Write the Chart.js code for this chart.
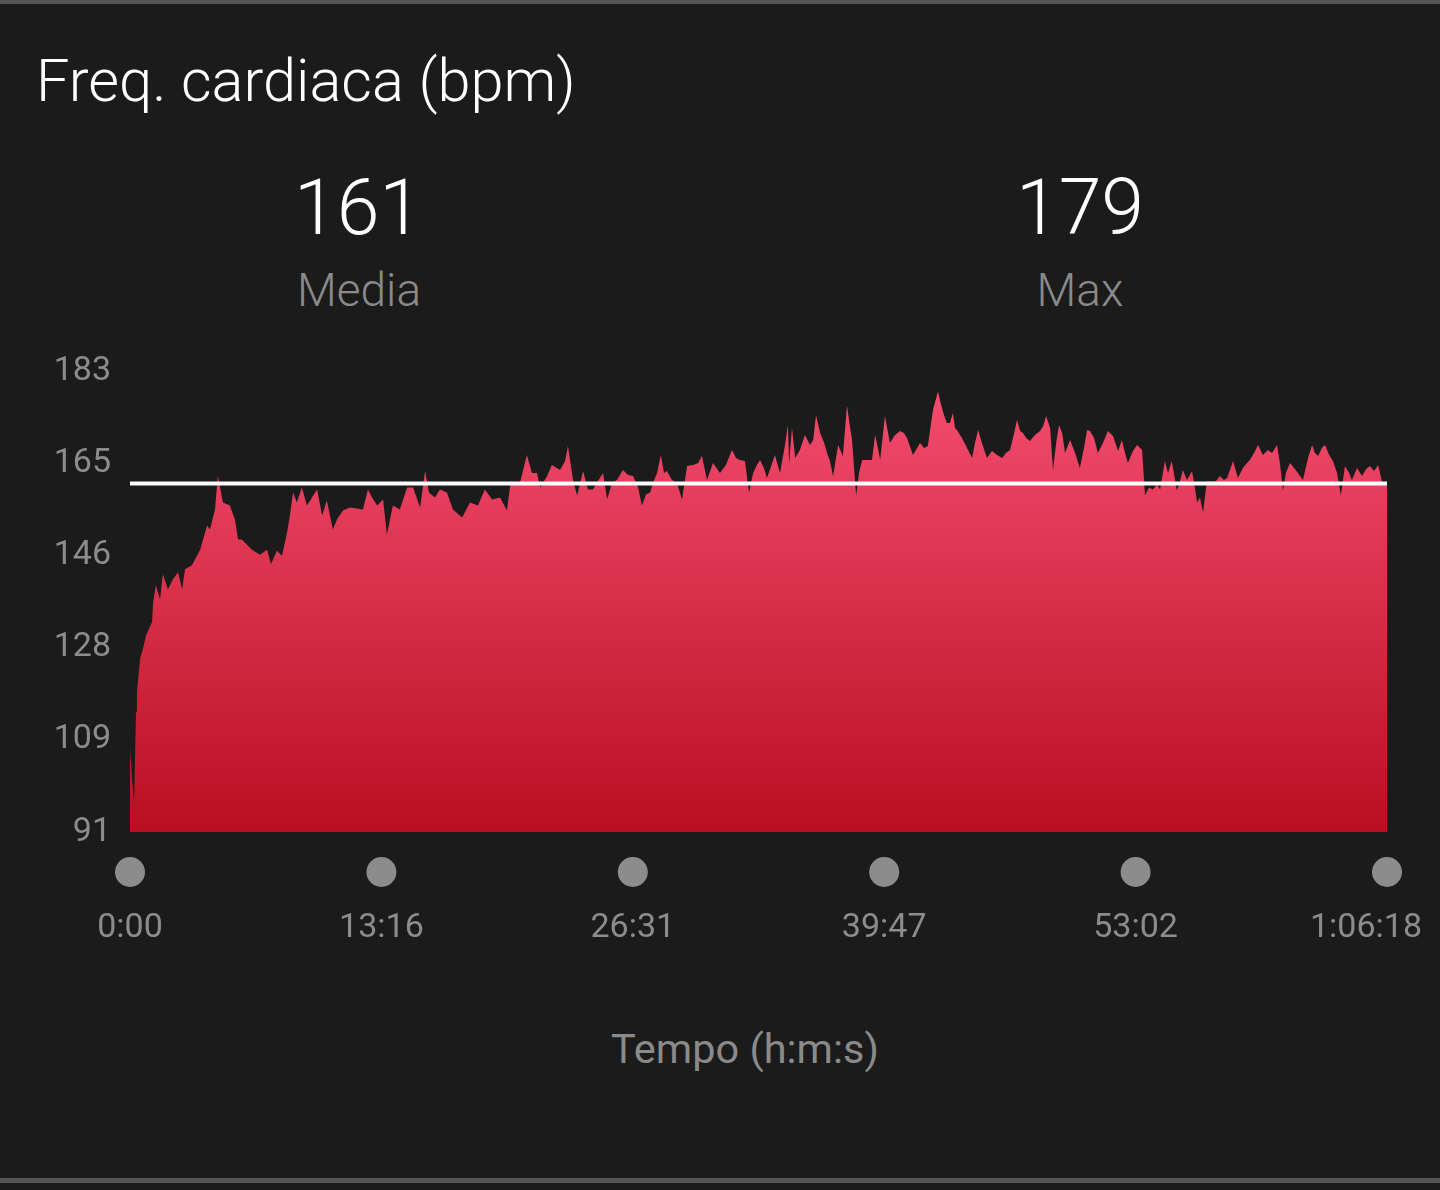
<!DOCTYPE html>
<html>
<head>
<meta charset="utf-8">
<script src="https://cdn.jsdelivr.net/npm/chart.js@4.4.1/dist/chart.umd.min.js"></script>
<style>
  html, body { margin: 0; padding: 0; background: #1b1b1b; }
  body { width: 1440px; height: 1190px; position: relative; overflow: hidden; font-family: Roboto, "Noto Sans", sans-serif; }
  .rule { position: absolute; left: 0; width: 1440px; background: #555; }
  .txt { position: absolute; margin: 0; line-height: 1; white-space: nowrap; }
  .center { text-align: center; width: 400px; }
  #wrap { position: absolute; left: 0; top: 332px; width: 1440px; height: 640px; }
  #wrap canvas { display: block; }
</style>
</head>
<body>
<div class="rule" style="top:0;height:4px"></div>
<div class="rule" style="top:1178px;height:5px"></div>

<div class="txt" style="left:36px;top:52px;font-size:59.5px;font-weight:300;color:#fff">Freq. cardiaca (bpm)</div>

<div class="txt center" id="avgNum" style="left:158px;top:170px;font-size:77px;font-weight:300;color:#fff"></div>
<div class="txt center" style="left:159px;top:267px;font-size:46px;font-weight:300;color:#8a8a8a">Media</div>
<div class="txt center" id="maxNum" style="left:880px;top:170px;font-size:77px;font-weight:300;color:#fff"></div>
<div class="txt center" style="left:880px;top:267px;font-size:46px;font-weight:300;color:#8a8a8a">Max</div>

<div id="wrap"><canvas id="hrChart" width="1440" height="640"></canvas></div>

<div class="txt" style="left:545px;top:1028px;width:400px;text-align:center;font-size:41.5px;color:#8a8a8a">Tempo (h:m:s)</div>

<script>
// heart rate samples: time (s) and bpm
const hrTime = [0, 6, 13, 19, 22, 32, 41, 51, 70, 73, 82, 95, 104, 120, 136, 152, 165, 174, 196, 222,
  244, 253, 269, 278, 294, 316, 332, 342, 354, 386, 411, 434, 446, 465, 481, 497, 506, 516, 528, 544,
  560, 576, 592, 608, 623, 642, 655, 674, 696, 718, 737, 753, 766, 782, 801, 813, 832, 854, 877, 896,
  918, 934, 946, 965, 981, 1003, 1022, 1051, 1076, 1101, 1123, 1146, 1171, 1193, 1203, 1234, 1256, 1272, 1288, 1298,
  1320, 1335, 1361, 1377, 1386, 1402, 1415, 1434, 1449, 1465, 1481, 1497, 1510, 1525, 1541, 1560, 1576, 1592, 1608, 1620,
  1633, 1646, 1655, 1668, 1680, 1690, 1699, 1715, 1731, 1747, 1763, 1782, 1798, 1810, 1826, 1845, 1867, 1886, 1905, 1918,
  1930, 1946, 1959, 1972, 1984, 1994, 2006, 2016, 2029, 2041, 2057, 2073, 2082, 2086, 2095, 2105, 2120, 2136, 2152, 2162,
  2171, 2184, 2197, 2206, 2215, 2225, 2241, 2256, 2269, 2279, 2285, 2298, 2307, 2317, 2336, 2348, 2358, 2367, 2374, 2389,
  2405, 2421, 2437, 2449, 2459, 2478, 2491, 2500, 2513, 2525, 2541, 2557, 2566, 2576, 2585, 2595, 2604, 2611, 2617, 2633,
  2649, 2665, 2674, 2684, 2696, 2712, 2728, 2744, 2760, 2772, 2785, 2798, 2807, 2817, 2826, 2836, 2848, 2864, 2880, 2890,
  2899, 2912, 2921, 2931, 2940, 2950, 2959, 2975, 2991, 3006, 3019, 3029, 3038, 3051, 3063, 3079, 3095, 3111, 3127, 3139,
  3149, 3158, 3174, 3187, 3203, 3212, 3225, 3237, 3250, 3260, 3275, 3285, 3297, 3313, 3323, 3332, 3345, 3361, 3370, 3377,
  3386, 3396, 3408, 3424, 3437, 3449, 3462, 3472, 3491, 3506, 3522, 3535, 3544, 3557, 3570, 3585, 3601, 3614, 3630, 3639,
  3649, 3658, 3671, 3684, 3696, 3712, 3728, 3741, 3750, 3760, 3772, 3782, 3795, 3807, 3820, 3832, 3845, 3858, 3867, 3883,
  3899, 3912, 3924, 3937, 3950, 3965, 3978];
const hrBpm = [107.7, 102.1, 96.6, 115, 119, 125.6, 127.6, 130.3, 133, 136.9, 140.3, 137.5, 142.5, 139.5, 141.5, 142.9, 139.5, 143.5, 144.3, 147.4,
  152.2, 151.4, 155.4, 162.1, 156.8, 156.2, 153.4, 149.4, 149.4, 147.4, 146.4, 147.4, 144.5, 147.2, 146.2, 150.8, 154.2, 158.8, 156.8, 159.8,
  156.2, 157.8, 159.4, 154.2, 157.2, 151.4, 153.4, 155.2, 155.8, 155.6, 155.4, 159.4, 157.8, 156.2, 157.4, 150.4, 156.2, 155.4, 159.8, 159.8,
  155.8, 163.1, 158.8, 157.8, 159.4, 158.8, 155.4, 153.8, 156.8, 156.2, 159.4, 157.4, 157.8, 155.2, 160.2, 160.7, 166.3, 162.7, 162.7, 159.8,
  162.1, 164.3, 163.3, 165.1, 168.1, 161.3, 158.2, 163.1, 159.4, 159.4, 161.1, 162.7, 157.4, 160.7, 161.3, 163.3, 162.3, 162.1, 159.8, 156.2,
  158.4, 158.8, 160.7, 162.7, 166.3, 162.7, 163.1, 161.3, 160.7, 157.4, 164.1, 164.3, 164.7, 166.1, 161.3, 164.7, 162.7, 164.3, 167.3, 165.7,
  165.3, 165.1, 158.8, 162.7, 164.3, 165.3, 163.7, 161.7, 164.1, 166.3, 162.7, 168.3, 172.3, 164.7, 171.7, 165.7, 167.3, 170.3, 168.3, 169.3,
  174.3, 170.7, 168.7, 166.7, 165.1, 162.1, 168.3, 166.1, 176.2, 171.7, 169.3, 158.2, 162.7, 165.3, 165.3, 165.3, 170.3, 167.7, 165.3, 174.1,
  168.7, 170.3, 171.1, 170.7, 169.7, 166.3, 167.7, 168.7, 167.7, 168.1, 175.3, 179, 176.6, 174.3, 172.7, 172.7, 174.7, 171.7, 171.3, 169.7,
  167.7, 165.7, 168.7, 171.3, 168.7, 165.7, 167.1, 166.3, 165.7, 166.7, 167.3, 170.7, 173.3, 171.1, 170.7, 169.7, 169.1, 170.3, 171.1, 172.1,
  174.1, 171.7, 163.3, 168.7, 172.3, 170.7, 166.7, 169.3, 166.7, 163.7, 167.7, 171.3, 171.1, 169.7, 166.7, 168.7, 171.1, 170.1, 167.1, 169.3,
  166.7, 164.7, 167.1, 168.3, 167.3, 158.2, 159.8, 159.4, 160.4, 159.4, 165.1, 162.7, 165.1, 159.2, 161.1, 163.3, 161.3, 163.1, 159.8, 156.8,
  157.8, 154.8, 161.1, 160.9, 161.1, 162.1, 161.3, 161.7, 165.1, 161.7, 163.7, 164.7, 165.3, 166.7, 168.3, 166.3, 167.3, 166.7, 168.3, 164.7,
  159.2, 162.7, 164.7, 163.7, 162.7, 161.3, 165.7, 168.3, 166.7, 166.1, 167.7, 168.3, 166.3, 165.1, 162.7, 158.2, 164.1, 162.7, 161.3, 163.7,
  162.1, 163.5, 164.1, 163.1, 164.3, 160.2, 160.7];

const avgBpm = 160.6;      // white reference line
const statAvg = 161;
const statMax = 179;
const yMin = 91, yMax = 183, yStep = 18.4;
const xMax = 3978, xStep = 795.6;
const xTickLabels = ['0:00', '13:16', '26:31', '39:47', '53:02', '1:06:18'];

document.getElementById('avgNum').textContent = statAvg;
document.getElementById('maxNum').textContent = statMax;

const greyText = '#8c8c8c';

// dots + time labels under the plot
const timeAxisPlugin = {
  id: 'timeAxis',
  afterDraw(chart) {
    const ctx = chart.ctx;
    const xs = chart.scales.x;
    const bottom = chart.chartArea.bottom;
    ctx.save();
    ctx.font = '34px Roboto';
    ctx.textBaseline = 'middle';
    ctx.textAlign = 'center';
    xs.ticks.forEach((t, i) => {
      const px = xs.getPixelForValue(t.value);
      ctx.fillStyle = greyText;
      ctx.beginPath();
      ctx.arc(px, bottom + 40, 15, 0, Math.PI * 2);
      ctx.fill();
      const label = xTickLabels[i] || '';
      const w = ctx.measureText(label).width;
      let lx = px;
      if (lx + w / 2 > chart.width - 18) lx = chart.width - 18 - w / 2;
      ctx.fillText(label, lx, bottom + 96);
    });
    ctx.restore();
  }
};

new Chart(document.getElementById('hrChart'), {
  type: 'line',
  data: {
    datasets: [{
      data: hrTime.map((t, i) => ({ x: t, y: hrBpm[i] })),
      order: 1,
      borderWidth: 0,
      pointRadius: 0,
      tension: 0,
      fill: 'start',
      backgroundColor(c) {
        const area = c.chart.chartArea;
        if (!area) return '#e03050';
        const g = c.chart.ctx.createLinearGradient(0, area.top, 0, area.bottom);
        g.addColorStop(0, '#f54e71');
        g.addColorStop(1, '#ba0f22');
        return g;
      }
    }, {
      data: [{ x: 0, y: avgBpm }, { x: xMax, y: avgBpm }],
      order: 0,
      borderColor: '#ffffff',
      borderWidth: 4,
      pointRadius: 0,
      fill: false
    }]
  },
  options: {
    responsive: false,
    animation: false,
    layout: { padding: { top: 0, right: 53, left: 0, bottom: 0 } },
    plugins: { legend: { display: false }, tooltip: { enabled: false } },
    scales: {
      x: {
        type: 'linear',
        min: 0, max: xMax,
        border: { display: false },
        grid: { display: false, drawTicks: false },
        ticks: { stepSize: xStep, display: false },
        afterFit(s) { s.height = 140; }
      },
      y: {
        min: yMin, max: yMax,
        border: { display: false },
        grid: { display: false, drawTicks: false },
        ticks: {
          stepSize: yStep,
          padding: 19,
          color: greyText,
          font: { family: 'Roboto', size: 34 },
          callback: v => Math.round(v)
        },
        afterFit(s) { s.width = 130; }
      }
    }
  },
  plugins: [timeAxisPlugin]
});
</script>
</body>
</html>
